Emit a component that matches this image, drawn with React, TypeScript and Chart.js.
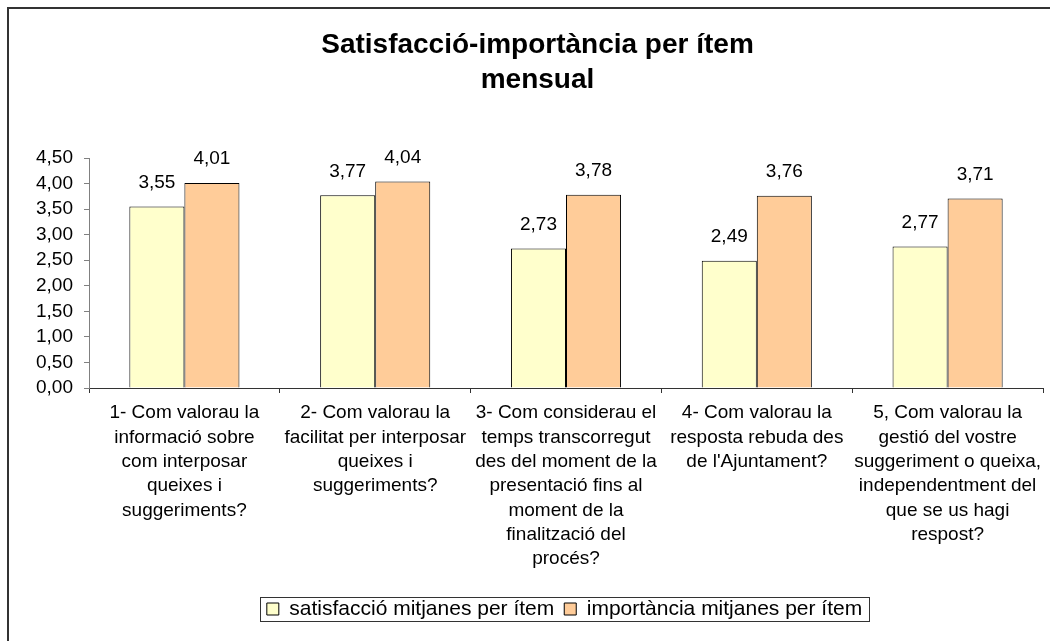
import { useEffect, useRef } from 'react';
import { Chart, registerables } from 'chart.js';

Chart.register(...registerables);

const titleLines = ['Satisfacció-importància per ítem', 'mensual'];

const categories: string[][] = [
  ['1- Com valorau la', 'informació sobre', 'com interposar', 'queixes i', 'suggeriments?'],
  ['2- Com valorau la', 'facilitat per interposar', 'queixes i', 'suggeriments?'],
  ['3- Com considerau el', 'temps transcorregut', 'des del moment de la', 'presentació fins al', 'moment de la', 'finalització del', 'procés?'],
  ['4- Com valorau la', 'resposta rebuda des', "de l'Ajuntament?"],
  ['5, Com valorau la', 'gestió del vostre', 'suggeriment o queixa,', 'independentment del', 'que se us hagi', 'respost?'],
];

const seriesNames = ['satisfacció mitjanes per ítem', 'importància mitjanes per ítem'];
const satisfaccio = [3.55, 3.77, 2.73, 2.49, 2.77];
const importancia = [4.01, 4.04, 3.78, 3.76, 3.71];

const yMin = 0;
const yMax = 4.5;
const yStep = 0.5;

const FONT = '"Liberation Sans", Arial, sans-serif';
const fmt = (v: number) => Number(v).toFixed(2).replace('.', ',');

const framePlugin = {
  id: 'frame',
  beforeDraw(chart: any) {
    const { ctx, width, height } = chart;
    ctx.save();
    ctx.fillStyle = '#ffffff';
    ctx.fillRect(0, 0, width, height);
    ctx.strokeStyle = '#333333';
    ctx.lineWidth = 2;
    ctx.beginPath();
    ctx.moveTo(8, height);
    ctx.lineTo(8, 8);
    ctx.lineTo(width, 8);
    ctx.stroke();
    ctx.restore();
  },
};

const shiftPlugin = {
  id: 'shift',
  afterLayout(chart: any) {
    if (chart.legend) {
      chart.legend.left += 38;
      chart.legend.right += 38;
    }
    if (chart.titleBlock) {
      chart.titleBlock.left += 11;
      chart.titleBlock.right += 11;
    }
  },
};

const valueLabelPlugin = {
  id: 'valueLabels',
  afterDatasetsDraw(chart: any) {
    const ctx = chart.ctx;
    ctx.save();
    ctx.font = `19px ${FONT}`;
    ctx.fillStyle = '#000';
    ctx.textAlign = 'center';
    ctx.textBaseline = 'middle';
    chart.data.datasets.forEach((ds: any, i: number) => {
      chart.getDatasetMeta(i).data.forEach((el: any, j: number) => {
        ctx.fillText(fmt(ds.data[j]), el.x, el.y - 24);
      });
    });
    ctx.restore();
  },
};

const legendFramePlugin = {
  id: 'legendFrame',
  afterDraw(chart: any) {
    const lg = chart.legend;
    if (!lg || !lg.legendHitBoxes || !lg.legendHitBoxes.length) return;
    const hb = lg.legendHitBoxes;
    const last = hb[hb.length - 1];
    const l = Math.round(hb[0].left - 7);
    const r = Math.round(last.left + last.width + 7);
    const t = Math.round(hb[0].top - 1.5);
    const b = Math.round(hb[0].top + hb[0].height + 1.5);
    const ctx = chart.ctx;
    ctx.save();
    ctx.strokeStyle = '#333333';
    ctx.lineWidth = 1;
    ctx.strokeRect(l + 0.5, t + 0.5, r - l, b - t);
    ctx.restore();
  },
};

export default function App() {
  const ref = useRef<HTMLCanvasElement | null>(null);

  useEffect(() => {
    if (!ref.current) return;
    Chart.defaults.font.family = FONT;
    const chart = new Chart(ref.current, {
      type: 'bar',
      data: {
        labels: categories,
        datasets: [
          {
            label: seriesNames[0],
            data: satisfaccio,
            backgroundColor: '#FFFFCC',
            borderColor: '#000000',
            borderWidth: 1,
          },
          {
            label: seriesNames[1],
            data: importancia,
            backgroundColor: '#FFCC99',
            borderColor: '#000000',
            borderWidth: 1,
          },
        ],
      },
      options: {
        animation: false,
        responsive: false,
        layout: { padding: { left: 10, right: 7, top: 0, bottom: 11.5 } },
        datasets: { bar: { categoryPercentage: 0.577, barPercentage: 1 } },
        plugins: {
          title: {
            display: true,
            text: titleLines,
            color: '#000',
            font: { size: 28, weight: 'bold', lineHeight: 1.25, family: FONT },
            padding: { top: 27.5, bottom: 60.5 },
          },
          legend: {
            position: 'bottom',
            labels: {
              color: '#000',
              font: { size: 21, family: FONT },
              boxWidth: 12,
              boxHeight: 12,
              padding: 10,
            },
          },
          tooltip: { enabled: false },
        },
        scales: {
          x: {
            grid: { offset: true, drawOnChartArea: false, tickLength: 5, color: '#333333' },
            border: { color: '#333333' },
            ticks: {
              color: '#000',
              font: { size: 19, lineHeight: 1.28, family: FONT },
              padding: 8,
              autoSkip: false,
              maxRotation: 0,
              minRotation: 0,
            },
            afterFit: (s: any) => {
              s.height = 200.5;
            },
          },
          y: {
            min: yMin,
            max: yMax,
            ticks: {
              stepSize: yStep,
              autoSkip: false,
              color: '#000',
              font: { size: 19, family: FONT },
              padding: 11,
              callback: (v: any) => fmt(v),
            },
            grid: { drawOnChartArea: false, tickLength: 5, color: '#808080' },
            border: { color: '#808080' },
            afterFit: (s: any) => {
              s.width = 79;
            },
          },
        },
      } as any,
      plugins: [framePlugin, shiftPlugin, valueLabelPlugin, legendFramePlugin],
    });
    return () => chart.destroy();
  }, []);

  return (
    <canvas
      ref={ref}
      width={1050}
      height={641}
      style={{ position: 'absolute', left: 0, top: 0, display: 'block' }}
    />
  );
}
